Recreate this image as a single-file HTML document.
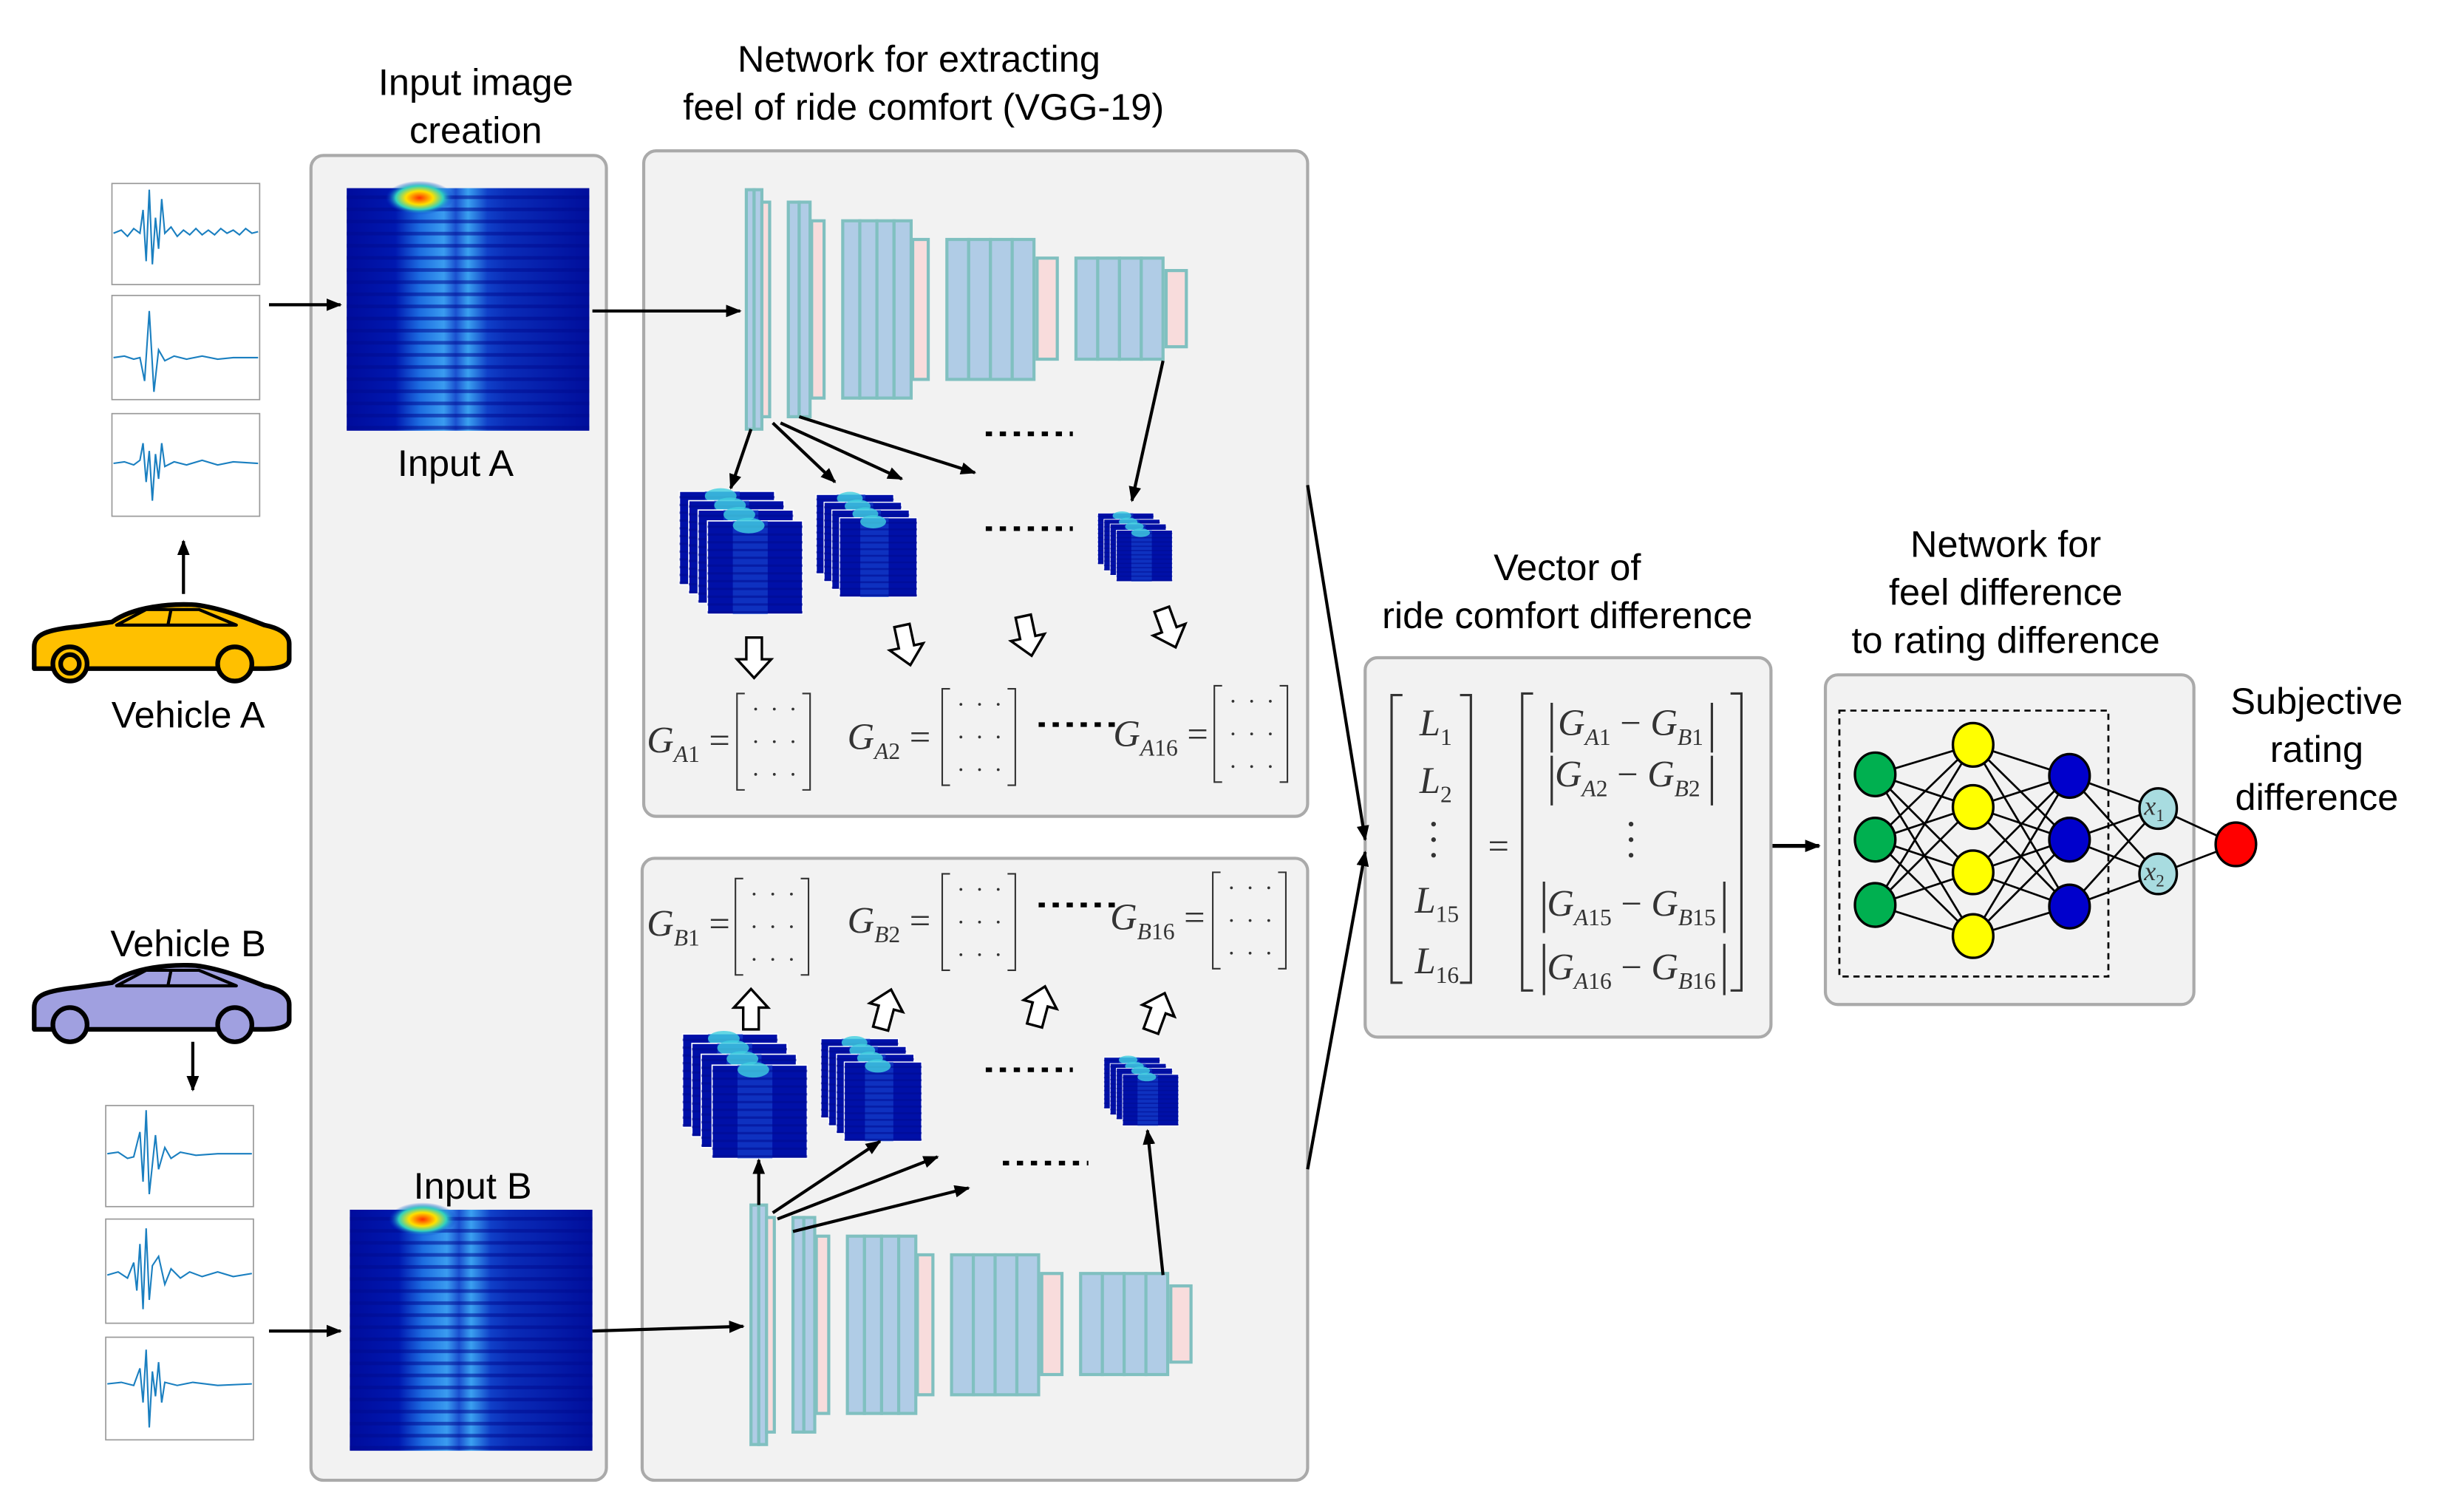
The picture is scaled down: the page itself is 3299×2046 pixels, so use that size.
<!DOCTYPE html>
<html><head><meta charset="utf-8"><style>html,body{margin:0;padding:0;background:#fff}svg{display:block}</style></head>
<body>
<svg width="3299" height="2046" viewBox="0 0 1568 972.4" preserveAspectRatio="none" xmlns="http://www.w3.org/2000/svg" font-family="'Liberation Sans', sans-serif">
<defs>
<marker id="ah" markerWidth="10" markerHeight="8" refX="9" refY="4" orient="auto" markerUnits="userSpaceOnUse"><path d="M0,0 L10,4 L0,8 Z" fill="#000"/></marker>
<linearGradient id="spx" x1="0" x2="1" y1="0" y2="0">
<stop offset="0" stop-color="#000c9c"/><stop offset="0.2" stop-color="#0018b0"/><stop offset="0.3" stop-color="#1c6ce0"/><stop offset="0.4" stop-color="#3a9cf0"/><stop offset="0.45" stop-color="#1a50d0"/><stop offset="0.5" stop-color="#3aa0f0"/><stop offset="0.58" stop-color="#1040c8"/><stop offset="0.66" stop-color="#0a2cb8"/><stop offset="1" stop-color="#000e9c"/>
</linearGradient>
<pattern id="hstr" width="6" height="5" patternUnits="userSpaceOnUse"><rect width="6" height="5" fill="none"/><rect y="3" width="6" height="1.5" fill="#000a90" opacity="0.55"/></pattern>
<radialGradient id="hot" cx="0.5" cy="0.5" r="0.5"><stop offset="0" stop-color="#ff3000"/><stop offset="0.4" stop-color="#ffe000"/><stop offset="0.7" stop-color="#30d0c0"/><stop offset="1" stop-color="#0030d0" stop-opacity="0"/></radialGradient>
<g id="spec">
<rect width="100" height="100" fill="url(#spx)"/>
<rect width="100" height="100" fill="url(#hstr)"/>
<ellipse cx="30" cy="4" rx="14" ry="7" fill="url(#hot)"/>
</g>
<g id="fmap">
<rect x="0" y="0" width="60" height="60" fill="#0010a8" stroke="#fff" stroke-width="0.8"/>
<rect x="16" y="0" width="22" height="60" fill="#1848d0" opacity="0.6"/>
<rect x="0" y="0" width="60" height="60" fill="url(#hstr)"/>
<ellipse cx="26" cy="3" rx="10" ry="5" fill="#40d0e0" opacity="0.8"/>
</g>
<g id="mx" fill="none" stroke="#333" stroke-width="1">
<path d="M5,0 H0 V62 H5 M42,0 H47 V62 H42"/>
<g fill="#333" stroke="none"><circle cx="12" cy="10" r="0.9"/><circle cx="24" cy="10" r="0.9"/><circle cx="36" cy="10" r="0.9"/><circle cx="12" cy="31" r="0.9"/><circle cx="24" cy="31" r="0.9"/><circle cx="36" cy="31" r="0.9"/><circle cx="12" cy="52" r="0.9"/><circle cx="24" cy="52" r="0.9"/><circle cx="36" cy="52" r="0.9"/></g>
</g>
<g id="vgg" stroke="#80c0c0" stroke-width="2">
<g fill="#b0cce6">
<rect x="480" y="122" width="5" height="154"/><rect x="485" y="122" width="5" height="154"/>
<rect x="507" y="130" width="7" height="138"/><rect x="514" y="130" width="7" height="138"/>
<rect x="542" y="142" width="11" height="114"/><rect x="553" y="142" width="11" height="114"/><rect x="564" y="142" width="11" height="114"/><rect x="575" y="142" width="11" height="114"/>
<rect x="609" y="154" width="14" height="90"/><rect x="623" y="154" width="14" height="90"/><rect x="637" y="154" width="14" height="90"/><rect x="651" y="154" width="14" height="90"/>
<rect x="692" y="166" width="14" height="65"/><rect x="706" y="166" width="14" height="65"/><rect x="720" y="166" width="14" height="65"/><rect x="734" y="166" width="14" height="65"/>
</g>
<g fill="#f8dcdc">
<rect x="490" y="130" width="5" height="138"/>
<rect x="522" y="142" width="8" height="114"/>
<rect x="587" y="154" width="10" height="90"/>
<rect x="667" y="166" width="13" height="65"/>
<rect x="750" y="174" width="13" height="49"/>
</g>
</g>
<path id="hdn" d="M-5,-14 L5,-14 L5,0 L11,0 L0,12 L-11,0 L-5,0 Z" fill="#fff" stroke="#000" stroke-width="1.6"/>
</defs>

<g fill="#f2f2f2" stroke="#aaaaaa" stroke-width="2">
<rect x="200" y="100" width="190" height="852" rx="8"/>
<rect x="414" y="97" width="427" height="428" rx="8"/>
<rect x="413" y="552" width="428" height="400" rx="8"/>
<rect x="878" y="423" width="261" height="244" rx="8"/>
<rect x="1174" y="434" width="237" height="212" rx="8"/>
</g>

<g font-size="24" text-anchor="middle" fill="#000">
<text x="306" y="61">Input image</text><text x="306" y="92">creation</text>
<text x="591" y="46">Network for extracting</text><text x="594" y="77">feel of ride comfort (VGG-19)</text>
<text x="1008" y="373">Vector of</text><text x="1008" y="404">ride comfort difference</text>
<text x="1290" y="358">Network for</text><text x="1290" y="389">feel difference</text><text x="1290" y="420">to rating difference</text>
<text x="1490" y="459">Subjective</text><text x="1490" y="490">rating</text><text x="1490" y="521">difference</text>
<text x="293" y="306">Input A</text><text x="304" y="771">Input B</text>
<text x="121" y="468">Vehicle A</text><text x="121" y="615">Vehicle B</text>
</g>

<g fill="#fff" stroke="#999" stroke-width="0.8">
<rect x="72" y="118" width="95" height="65"/><rect x="72" y="190" width="95" height="67"/><rect x="72" y="266" width="95" height="66"/>
<rect x="68" y="711" width="95" height="65"/><rect x="68" y="784" width="95" height="67"/><rect x="68" y="860" width="95" height="66"/>
</g>
<g fill="none" stroke="#1a7fc0" stroke-width="1">
<polyline points="73,150 78,148 82,152 86,147 90,150 92,135 94,168 96,122 98,170 100,140 102,160 104,128 106,150 110,146 114,152 118,148 122,151 126,147 130,151 134,148 138,151 142,147 146,150 150,148 154,151 158,147 162,150 166,149"/>
<polyline points="73,230 80,229 86,231 90,230 93,245 96,200 99,252 102,225 106,232 112,229 120,231 130,229 140,231 150,230 166,230"/>
<polyline points="73,298 80,297 86,299 90,296 92,285 94,310 96,290 98,322 100,292 102,308 104,285 106,300 112,297 120,299 130,296 140,299 150,297 166,298"/>
<polyline points="69,742 76,741 82,745 86,744 90,728 92,760 94,714 96,768 100,730 102,752 106,738 110,745 116,741 126,743 140,742 162,742"/>
<polyline points="69,820 76,818 82,822 86,812 88,830 90,800 92,842 94,790 96,836 98,814 102,808 106,826 110,816 116,822 122,818 130,821 140,818 150,821 162,819"/>
<polyline points="69,890 78,889 86,891 90,880 92,902 94,868 96,918 98,882 100,898 102,876 104,902 106,889 114,891 124,889 140,891 162,890"/>
</g>

<use href="#spec" transform="translate(223,121) scale(1.56,1.56)"/>
<use href="#spec" transform="translate(225,778) scale(1.56,1.55)"/>

<g stroke="#000" stroke-width="3" stroke-linejoin="round">
<path d="M22,416 C22,408 30,405 50,403 L72,400 C86,390 110,388 126,389 C142,391 160,398 170,402 C180,404 186,408 186,414 L186,424 C186,428 180,430 170,430 L22,430 Z" fill="#ffc000"/>
<path d="M75,402 L94,392 L128,392 L152,402 Z" fill="#ffc000" stroke-width="2"/>
<line x1="110" y1="392" x2="108" y2="402" stroke-width="2"/>
<circle cx="45" cy="427" r="11" fill="#ffc000"/><circle cx="45" cy="427" r="6" fill="#ffc000"/>
<circle cx="151" cy="427" r="11" fill="#ffc000"/>
<path d="M22,648 C22,640 30,637 50,635 L72,632 C86,622 110,620 126,621 C142,623 160,630 170,634 C180,636 186,640 186,646 L186,656 C186,660 180,662 170,662 L22,662 Z" fill="#a0a0e0"/>
<path d="M75,634 L94,624 L128,624 L152,634 Z" fill="#a0a0e0" stroke-width="2"/>
<line x1="110" y1="624" x2="108" y2="634" stroke-width="2"/>
<circle cx="45" cy="659" r="11" fill="#a0a0e0"/>
<circle cx="151" cy="659" r="11" fill="#a0a0e0"/>
</g>

<g stroke="#000" stroke-width="2" fill="none" marker-end="url(#ah)">
<line x1="118" y1="382" x2="118" y2="348"/>
<line x1="124" y1="670" x2="124" y2="701"/>
<line x1="173" y1="196" x2="219" y2="196"/>
<line x1="173" y1="856" x2="219" y2="856"/>
<line x1="381" y1="200" x2="476" y2="200"/>
<line x1="381" y1="856" x2="478" y2="853"/>
<line x1="841" y1="312" x2="878" y2="540"/>
<line x1="841" y1="752" x2="878" y2="548"/>
<line x1="1140" y1="544" x2="1170" y2="544" stroke-width="2.5"/>
</g>

<use href="#vgg"/>
<use href="#vgg" transform="translate(3,653)"/>

<use href="#fmap" transform="translate(437,316) scale(1.02,1)"/>
<use href="#fmap" transform="translate(443,322) scale(1.02,1)"/>
<use href="#fmap" transform="translate(449,328) scale(1.02,1)"/>
<use href="#fmap" transform="translate(455,335) scale(1.02,1)"/>
<use href="#fmap" transform="translate(525,318) scale(0.83,0.85)"/>
<use href="#fmap" transform="translate(530,323) scale(0.83,0.85)"/>
<use href="#fmap" transform="translate(535,328) scale(0.83,0.85)"/>
<use href="#fmap" transform="translate(540,333) scale(0.83,0.85)"/>
<use href="#fmap" transform="translate(706,330) scale(0.6,0.55)"/>
<use href="#fmap" transform="translate(710,334) scale(0.6,0.55)"/>
<use href="#fmap" transform="translate(714,337) scale(0.6,0.55)"/>
<use href="#fmap" transform="translate(718,341) scale(0.6,0.55)"/>
<use href="#fmap" transform="translate(439,665) scale(1.02,1)"/>
<use href="#fmap" transform="translate(445,671) scale(1.02,1)"/>
<use href="#fmap" transform="translate(451,678) scale(1.02,1)"/>
<use href="#fmap" transform="translate(458,685) scale(1.02,1)"/>
<use href="#fmap" transform="translate(528,668) scale(0.83,0.85)"/>
<use href="#fmap" transform="translate(533,673) scale(0.83,0.85)"/>
<use href="#fmap" transform="translate(538,678) scale(0.83,0.85)"/>
<use href="#fmap" transform="translate(543,683) scale(0.83,0.85)"/>
<use href="#fmap" transform="translate(710,680) scale(0.6,0.55)"/>
<use href="#fmap" transform="translate(714,684) scale(0.6,0.55)"/>
<use href="#fmap" transform="translate(718,687) scale(0.6,0.55)"/>
<use href="#fmap" transform="translate(722,691) scale(0.6,0.55)"/>

<g stroke="#000" stroke-width="3" stroke-dasharray="4,5">
<line x1="634" y1="279" x2="690" y2="279"/><line x1="634" y1="340" x2="690" y2="340"/>
<line x1="634" y1="688" x2="690" y2="688"/><line x1="645" y1="748" x2="700" y2="748"/>
<line x1="668" y1="466" x2="718" y2="466"/><line x1="668" y1="582" x2="720" y2="582"/>
</g>

<g stroke="#000" stroke-width="2" fill="none" marker-end="url(#ah)">
<line x1="483" y1="276" x2="470" y2="314"/>
<line x1="497" y1="272" x2="537" y2="310"/>
<line x1="502" y1="272" x2="580" y2="308"/>
<line x1="514" y1="268" x2="627" y2="304"/>
<line x1="748" y1="232" x2="728" y2="322"/>
<line x1="488" y1="775" x2="488" y2="746"/>
<line x1="497" y1="780" x2="566" y2="734"/>
<line x1="500" y1="784" x2="603" y2="744"/>
<line x1="510" y1="792" x2="623" y2="764"/>
<line x1="748" y1="820" x2="738" y2="727"/>
</g>

<use href="#hdn" transform="translate(485,424)"/>
<use href="#hdn" transform="translate(583,416) rotate(-12)"/>
<use href="#hdn" transform="translate(661,410) rotate(-12)"/>
<use href="#hdn" transform="translate(752,405) rotate(-20)"/>
<use href="#hdn" transform="translate(483,648) rotate(180)"/>
<use href="#hdn" transform="translate(570,648) rotate(195)"/>
<use href="#hdn" transform="translate(669,646) rotate(195)"/>
<use href="#hdn" transform="translate(745,650) rotate(200)"/>

<use href="#mx" transform="translate(474,446)"/>
<use href="#mx" transform="translate(606,443)"/>
<use href="#mx" transform="translate(781,441)"/>
<use href="#mx" transform="translate(473,565)"/>
<use href="#mx" transform="translate(606,562)"/>
<use href="#mx" transform="translate(780,561)"/>
<g font-family="'Liberation Serif', serif" font-size="24" fill="#333">
<text x="416" y="484"><tspan font-style="italic">G</tspan><tspan font-style="italic" font-size="15" dy="6">A</tspan><tspan font-size="15">1</tspan><tspan dy="-6"> =</tspan></text>
<text x="545" y="482"><tspan font-style="italic">G</tspan><tspan font-style="italic" font-size="15" dy="6">A</tspan><tspan font-size="15">2</tspan><tspan dy="-6"> =</tspan></text>
<text x="716" y="480"><tspan font-style="italic">G</tspan><tspan font-style="italic" font-size="15" dy="6">A</tspan><tspan font-size="15">16</tspan><tspan dy="-6"> =</tspan></text>
<text x="416" y="602"><tspan font-style="italic">G</tspan><tspan font-style="italic" font-size="15" dy="6">B</tspan><tspan font-size="15">1</tspan><tspan dy="-6"> =</tspan></text>
<text x="545" y="600"><tspan font-style="italic">G</tspan><tspan font-style="italic" font-size="15" dy="6">B</tspan><tspan font-size="15">2</tspan><tspan dy="-6"> =</tspan></text>
<text x="714" y="598"><tspan font-style="italic">G</tspan><tspan font-style="italic" font-size="15" dy="6">B</tspan><tspan font-size="15">16</tspan><tspan dy="-6"> =</tspan></text>
</g>

<g fill="none" stroke="#333" stroke-width="1.5">
<path d="M902,447 H895 V632 H902 M939,447 H946 V632 H939"/>
<path d="M986,446 H979 V637 H986 M1113,446 H1120 V637 H1113"/>
<path d="M998,452 V484 M1101,452 V484 M998,486 V518 M1101,486 V518 M993,567 V600 M1109,567 V600 M993,607 V640 M1109,607 V640"/>
</g>
<g font-family="'Liberation Serif', serif" font-size="24" fill="#333">
<text x="913" y="473" font-style="italic">L<tspan font-size="15" dy="6" font-style="normal">1</tspan></text>
<text x="913" y="510" font-style="italic">L<tspan font-size="15" dy="6" font-style="normal">2</tspan></text>
<text x="910" y="587" font-style="italic">L<tspan font-size="15" dy="6" font-style="normal">15</tspan></text>
<text x="910" y="626" font-style="italic">L<tspan font-size="15" dy="6" font-style="normal">16</tspan></text>
<text x="957" y="552">=</text>
<text x="1002" y="473"><tspan font-style="italic">G</tspan><tspan font-style="italic" font-size="15" dy="6">A</tspan><tspan font-size="15">1</tspan><tspan dy="-6"> − </tspan><tspan font-style="italic">G</tspan><tspan font-style="italic" font-size="15" dy="6">B</tspan><tspan font-size="15">1</tspan></text>
<text x="1000" y="506"><tspan font-style="italic">G</tspan><tspan font-style="italic" font-size="15" dy="6">A</tspan><tspan font-size="15">2</tspan><tspan dy="-6"> − </tspan><tspan font-style="italic">G</tspan><tspan font-style="italic" font-size="15" dy="6">B</tspan><tspan font-size="15">2</tspan></text>
<text x="995" y="589"><tspan font-style="italic">G</tspan><tspan font-style="italic" font-size="15" dy="6">A</tspan><tspan font-size="15">15</tspan><tspan dy="-6"> − </tspan><tspan font-style="italic">G</tspan><tspan font-style="italic" font-size="15" dy="6">B</tspan><tspan font-size="15">15</tspan></text>
<text x="995" y="630"><tspan font-style="italic">G</tspan><tspan font-style="italic" font-size="15" dy="6">A</tspan><tspan font-size="15">16</tspan><tspan dy="-6"> − </tspan><tspan font-style="italic">G</tspan><tspan font-style="italic" font-size="15" dy="6">B</tspan><tspan font-size="15">16</tspan></text>
</g>
<g fill="#333"><circle cx="922" cy="530" r="1.5"/><circle cx="922" cy="540" r="1.5"/><circle cx="922" cy="550" r="1.5"/>
<circle cx="1049" cy="530" r="1.5"/><circle cx="1049" cy="540" r="1.5"/><circle cx="1049" cy="550" r="1.5"/></g>

<rect x="1183" y="457" width="173" height="171" fill="none" stroke="#000" stroke-width="1.3" stroke-dasharray="4,3"/>
<g stroke="#000" stroke-width="1.3">
<line x1="1206" y1="498" x2="1269" y2="479"/><line x1="1206" y1="498" x2="1269" y2="519"/><line x1="1206" y1="498" x2="1269" y2="561"/><line x1="1206" y1="498" x2="1269" y2="602"/>
<line x1="1206" y1="540" x2="1269" y2="479"/><line x1="1206" y1="540" x2="1269" y2="519"/><line x1="1206" y1="540" x2="1269" y2="561"/><line x1="1206" y1="540" x2="1269" y2="602"/>
<line x1="1206" y1="582" x2="1269" y2="479"/><line x1="1206" y1="582" x2="1269" y2="519"/><line x1="1206" y1="582" x2="1269" y2="561"/><line x1="1206" y1="582" x2="1269" y2="602"/>
<line x1="1269" y1="479" x2="1331" y2="499"/><line x1="1269" y1="479" x2="1331" y2="540"/><line x1="1269" y1="479" x2="1331" y2="583"/>
<line x1="1269" y1="519" x2="1331" y2="499"/><line x1="1269" y1="519" x2="1331" y2="540"/><line x1="1269" y1="519" x2="1331" y2="583"/>
<line x1="1269" y1="561" x2="1331" y2="499"/><line x1="1269" y1="561" x2="1331" y2="540"/><line x1="1269" y1="561" x2="1331" y2="583"/>
<line x1="1269" y1="602" x2="1331" y2="499"/><line x1="1269" y1="602" x2="1331" y2="540"/><line x1="1269" y1="602" x2="1331" y2="583"/>
<line x1="1331" y1="499" x2="1388" y2="520"/><line x1="1331" y1="499" x2="1388" y2="562"/>
<line x1="1331" y1="540" x2="1388" y2="520"/><line x1="1331" y1="540" x2="1388" y2="562"/>
<line x1="1331" y1="583" x2="1388" y2="520"/><line x1="1331" y1="583" x2="1388" y2="562"/>
<line x1="1388" y1="520" x2="1438" y2="543"/><line x1="1388" y1="562" x2="1438" y2="543"/>
</g>
<g stroke="#000" stroke-width="1.6">
<g fill="#00b050"><ellipse cx="1206" cy="498" rx="13" ry="14"/><ellipse cx="1206" cy="540" rx="13" ry="14"/><ellipse cx="1206" cy="582" rx="13" ry="14"/></g>
<g fill="#ffff00"><ellipse cx="1269" cy="479" rx="13" ry="14"/><ellipse cx="1269" cy="519" rx="13" ry="14"/><ellipse cx="1269" cy="561" rx="13" ry="14"/><ellipse cx="1269" cy="602" rx="13" ry="14"/></g>
<g fill="#0000cc"><ellipse cx="1331" cy="499" rx="13" ry="14"/><ellipse cx="1331" cy="540" rx="13" ry="14"/><ellipse cx="1331" cy="583" rx="13" ry="14"/></g>
<g fill="#a8dce0"><ellipse cx="1388" cy="520" rx="12" ry="13"/><ellipse cx="1388" cy="562" rx="12" ry="13"/></g>
<ellipse cx="1438" cy="543" rx="13" ry="14" fill="#ff0000"/>
</g>
<g font-family="'Liberation Serif', serif" font-style="italic" font-size="17" fill="#333">
<text x="1379" y="524">x<tspan font-size="11" dy="4" font-style="normal">1</tspan></text>
<text x="1379" y="566">x<tspan font-size="11" dy="4" font-style="normal">2</tspan></text>
</g>
</svg>
</body></html>
